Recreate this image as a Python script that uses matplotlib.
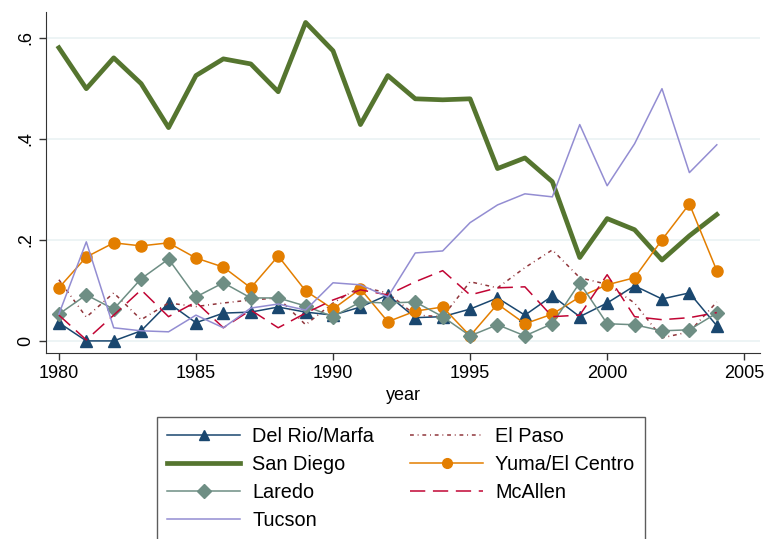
import matplotlib

matplotlib.use("Agg", force=True)
import matplotlib.pyplot as plt

plt.rcParams["font.family"] = ["Liberation Sans", "DejaVu Sans"]

years = list(range(1980, 2005))

del_rio = [0.036, 0.000, 0.000, 0.020, 0.075, 0.036, 0.055, 0.057, 0.067, 0.057,
           0.051, 0.067, 0.091, 0.046, 0.048, 0.063, 0.085, 0.051, 0.089, 0.048,
           0.075, 0.109, 0.083, 0.095, 0.030]
el_paso = [0.121, 0.047, 0.095, 0.042, 0.075, 0.068, 0.075, 0.081, 0.085, 0.032,
           0.075, 0.107, 0.095, 0.051, 0.048, 0.117, 0.105, 0.145, 0.180, 0.125,
           0.112, 0.075, 0.006, 0.018, 0.077]
san_diego = [0.580, 0.499, 0.560, 0.509, 0.422, 0.525, 0.558, 0.548, 0.493, 0.630,
             0.574, 0.428, 0.525, 0.479, 0.477, 0.479, 0.341, 0.362, 0.315, 0.165,
             0.242, 0.220, 0.160, 0.208, 0.250]
yuma = [0.105, 0.166, 0.194, 0.188, 0.194, 0.164, 0.146, 0.105, 0.168, 0.099,
        0.063, 0.103, 0.038, 0.059, 0.067, 0.010, 0.073, 0.034, 0.053, 0.087,
        0.111, 0.125, 0.200, 0.271, 0.139]
laredo = [0.053, 0.091, 0.063, 0.123, 0.162, 0.087, 0.115, 0.085, 0.085, 0.069,
          0.048, 0.077, 0.075, 0.077, 0.048, 0.010, 0.032, 0.010, 0.034, 0.115,
          0.034, 0.032, 0.020, 0.022, 0.055]
mcallen = [0.051, 0.002, 0.051, 0.101, 0.048, 0.077, 0.026, 0.061, 0.026, 0.055,
           0.081, 0.101, 0.091, 0.117, 0.139, 0.091, 0.105, 0.107, 0.048, 0.051,
           0.131, 0.048, 0.042, 0.046, 0.056]
tucson = [0.053, 0.196, 0.026, 0.020, 0.018, 0.051, 0.026, 0.065, 0.073, 0.061,
          0.115, 0.111, 0.087, 0.174, 0.178, 0.234, 0.269, 0.291, 0.285, 0.428,
          0.307, 0.390, 0.499, 0.333, 0.388]

fig = plt.figure(figsize=(7.72, 5.39), dpi=100)
ax = fig.add_axes([0.0596, 0.345, 0.925, 0.633])

thin = 1.1
h_delrio, = ax.plot(years, del_rio, color="#1a476f", lw=thin, marker="^", ms=8.5,
                    label="Del Rio/Marfa")
h_elpaso, = ax.plot(years, el_paso, color="#90353b", lw=thin,
                    linestyle=(0, (2.5, 2.5, 0.6, 2.5)), label="El Paso")
h_sd, = ax.plot(years, san_diego, color="#55752f", lw=3.4, label="San Diego")
h_yuma, = ax.plot(years, yuma, color="#e37e00", lw=thin, marker="o", ms=8,
                  label="Yuma/El Centro")
h_laredo, = ax.plot(years, laredo, color="#6e8e84", lw=thin, marker="D", ms=7.5,
                    label="Laredo")
h_mcallen, = ax.plot(years, mcallen, color="#c10534", lw=thin,
                     linestyle=(0, (10, 5)), label="McAllen")
h_tucson, = ax.plot(years, tucson, color="#938dd2", lw=thin, label="Tucson")

ax.set_xlim(1979.53, 2005.58)
ax.set_ylim(-0.024, 0.651)
ax.set_xticks([1980, 1985, 1990, 1995, 2000, 2005])
ax.set_yticks([0, 0.2, 0.4, 0.6])
ax.set_yticklabels(["0", ".2", ".4", ".6"], rotation=90, va="center")
ax.tick_params(labelsize=13, length=5, width=1, color="#333333")
ax.grid(axis="y", color="#eaf2f3", lw=1.2)
ax.set_axisbelow(True)
for side in ("top", "right"):
    ax.spines[side].set_visible(False)
for side in ("left", "bottom"):
    ax.spines[side].set_color("#333333")
ax.set_xlabel("year", fontsize=13, labelpad=4)

# legend: two columns, filled column by column
handles = [h_delrio, h_sd, h_laredo, h_tucson, h_elpaso, h_yuma, h_mcallen]
leg = fig.legend(handles=handles, loc="upper left",
                 bbox_to_anchor=(157 / 772, 1 - 417 / 539), ncol=2,
                 fontsize=14.3, frameon=True, fancybox=False, edgecolor="#333333",
                 handlelength=3.7, handletextpad=0.6, columnspacing=1.8,
                 labelspacing=0.46, borderpad=0.5, borderaxespad=0)
leg.get_frame().set_linewidth(1.0)
for line in leg.get_lines():
    line.set_markersize(7)

fig.savefig("out.png", dpi=100)
